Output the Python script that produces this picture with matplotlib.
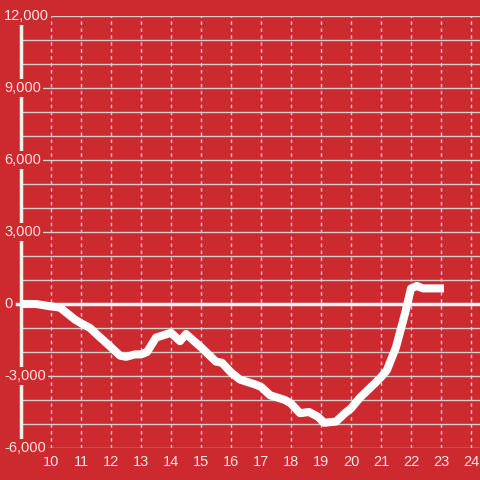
import matplotlib.pyplot as plt

# hourly running balance
hours = [9.0, 9.5, 10.0, 10.3, 10.5, 10.8, 11.0, 11.3, 11.6, 12.0, 12.3, 12.5,
         12.8, 13.0, 13.2, 13.5, 14.0, 14.3, 14.5, 15.0, 15.5, 15.7, 16.0, 16.3,
         16.8, 17.0, 17.3, 17.8, 18.0, 18.3, 18.6, 18.9, 19.1, 19.5, 19.8, 20.0,
         20.3, 20.8, 21.0, 21.2, 21.5, 21.8, 22.0, 22.2, 22.4, 23.1]
values = [0, 0, -100, -150, -350, -650, -800, -1000, -1350, -1800, -2150, -2200,
          -2100, -2100, -2000, -1400, -1200, -1550, -1250, -1800, -2400, -2450,
          -2850, -3150, -3350, -3450, -3800, -4000, -4150, -4550, -4500, -4700,
          -4950, -4900, -4550, -4350, -3900, -3300, -3050, -2750, -1800, -400,
          650, 750, 650, 650]

x_ticks = list(range(10, 25))
y_ticks = [-6000, -3000, 0, 3000, 6000, 9000, 12000]
y_grid = list(range(-6000, 12001, 1000))

bg = "#cc2a2f"
fg = "#f3e6e6"
grid_col = "#cfcfcf"

fig = plt.figure(figsize=(4.8, 4.8), dpi=100, facecolor=bg)
ax = fig.add_axes([21 / 480, 32 / 480, 459 / 480, 432 / 480], facecolor=bg)
ax.set_xlim(9, 24.3)
ax.set_ylim(-6000, 12000)

for s in ax.spines.values():
    s.set_visible(False)

for v in y_grid:
    ax.axhline(v, color=grid_col, lw=1.0, zorder=1)
for h in x_ticks:
    ax.axvline(h, color=grid_col, lw=1.0, ls=(0, (2.5, 2.5)), zorder=1)

# left axis line and zero line
ax.axvline(9, color="#f2f2f2", lw=2.5, zorder=2, clip_on=False)
ax.axhline(0, xmin=-4 / 459, xmax=1, color="#f2f2f2", lw=2.5, zorder=4,
           clip_on=False)

ax.plot(hours, values, color="white", lw=5.8, solid_joinstyle="round",
        solid_capstyle="butt", zorder=5)

ax.set_xticks(x_ticks)
ax.set_xticklabels([str(h) for h in x_ticks], color=fg, fontsize=10.5,
                   family="Liberation Sans")
ax.tick_params(axis="x", length=0, pad=5)
ax.set_yticks([])

# y labels sit on top of the axis line with a red box behind them
trans = ax.get_yaxis_transform()
for v in y_ticks:
    ax.text(-17 / 459, v, f"{v:,}", transform=trans, ha="left", va="center",
            color=fg, fontsize=10.5, family="Liberation Sans", zorder=3,
            clip_on=False,
            bbox=dict(boxstyle="square,pad=0.15", fc=bg, ec="none"))

fig.savefig("out.png", dpi=100, facecolor=bg)
